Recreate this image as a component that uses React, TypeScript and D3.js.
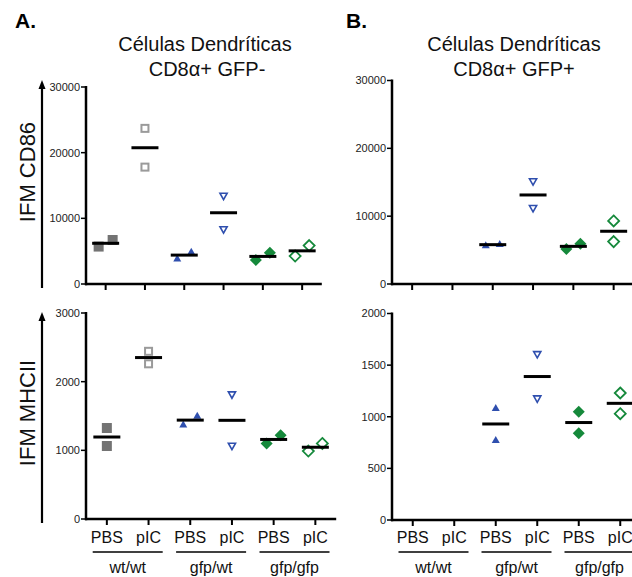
import React from "react";
import * as d3 from "d3";

const categories = ["wtPBS", "wtpIC", "gwPBS", "gwpIC", "ggPBS", "ggpIC"];
const catLabels = ["PBS", "pIC", "PBS", "pIC", "PBS", "pIC"];
const groups = ["wt/wt", "gfp/wt", "gfp/gfp"];
const markerKinds = ["sqFill", "sqOpen", "triFill", "triOpen", "diaFill", "diaOpen"];

// IFM CD86, GFP- (panel A top)
const cd86Neg: number[][] = [[5700, 6700], [23700, 17800], [3900, 4900], [13400, 8300], [3650, 4750], [4250, 5850]];
// IFM CD86, GFP+ (panel B top)
const cd86Pos: number[][] = [[], [], [5700, 5900], [15100, 11150], [5150, 5950], [9300, 6250]];
// IFM MHCII, GFP- (panel A bottom)
const mhcNeg: number[][] = [[1325, 1063], [2442, 2260], [1375, 1505], [1811, 1063], [1098, 1219], [990, 1100]];
// IFM MHCII, GFP+ (panel B bottom)
const mhcPos: number[][] = [[], [], [1084, 776], [1604, 1175], [1048, 840], [1230, 1030]];

const ticksCD86 = [0, 10000, 20000, 30000];
const ticksMhcA = [0, 1000, 2000, 3000];
const ticksMhcB = [0, 500, 1000, 1500, 2000];

const FONT = "Arial, 'Liberation Sans', sans-serif";
const GRAY_F = "#737373";
const GRAY_O = "#9a9a9a";
const BLUE = "#2f4fae";
const GREEN = "#15893b";

type PanelCfg = {
  data: number[][];
  ticks: number[];
  axisX: number;
  y0: number;
  yTop: number;
  step: number;
  labels: boolean;
};

function Marker({ kind, x, y }: { kind: string; x: number; y: number }) {
  switch (kind) {
    case "sqFill":
      return <rect x={x - 5} y={y - 5} width={10} height={10} fill={GRAY_F} />;
    case "sqOpen":
      return <rect x={x - 3.5} y={y - 3.5} width={7} height={7} fill="none" stroke={GRAY_O} strokeWidth={2} />;
    case "triFill":
      return <path d={`M${x},${y - 4}L${x + 4},${y + 3}L${x - 4},${y + 3}Z`} fill={BLUE} />;
    case "triOpen":
      return <path d={`M${x - 3.6},${y - 2.8}L${x + 3.6},${y - 2.8}L${x},${y + 3.6}Z`} fill="none" stroke={BLUE} strokeWidth={1.6} />;
    case "diaFill":
      return <path d={`M${x},${y - 6}L${x + 6},${y}L${x},${y + 6}L${x - 6},${y}Z`} fill={GREEN} />;
    default:
      return <path d={`M${x},${y - 5.5}L${x + 5.5},${y}L${x},${y + 5.5}L${x - 5.5},${y}Z`} fill="none" stroke={GREEN} strokeWidth={1.8} />;
  }
}

function Panel({ cfg }: { cfg: PanelCfg }) {
  const { data, ticks, axisX, y0, yTop, step, labels } = cfg;
  const x = d3.scalePoint<string>().domain(categories).range([axisX, axisX + 6 * step]).padding(0.5);
  const y = d3.scaleLinear().domain([0, ticks[ticks.length - 1]]).range([y0, yTop]);
  const xEnd = axisX + 6 * step;
  return (
    <g>
      <line x1={axisX} x2={axisX} y1={y0 + 1.25} y2={yTop - 1} stroke="#000" strokeWidth={2.5} />
      {ticks.map((t) => (
        <g key={t}>
          <line x1={axisX - 5} x2={axisX} y1={y(t)} y2={y(t)} stroke="#000" strokeWidth={1.5} />
          <text x={axisX - 6} y={y(t)} dy="0.35em" textAnchor="end" fontSize={11} fill="#222" fontFamily={FONT}>
            {t}
          </text>
        </g>
      ))}
      <line x1={axisX - 1} x2={xEnd} y1={y0} y2={y0} stroke="#000" strokeWidth={2.5} />
      {categories.map((c) => (
        <line key={c} x1={x(c)} x2={x(c)} y1={y0} y2={y0 + 6} stroke="#000" strokeWidth={2} />
      ))}
      {categories.map((c, i) => {
        const vals = data[i];
        if (!vals.length) return null;
        const cx = x(c) as number;
        const sorted = [...vals].sort((a, b) => a - b);
        const close = Math.abs(y(sorted[0]) - y(sorted[sorted.length - 1])) < 11;
        const m = d3.mean(vals) as number;
        return (
          <g key={c}>
            {sorted.map((v, j) => (
              <Marker key={j} kind={markerKinds[i]} x={close ? cx + (j === 0 ? -7 : 7) : cx} y={y(v)} />
            ))}
            <line x1={cx - 13.5} x2={cx + 13.5} y1={y(m)} y2={y(m)} stroke="#000" strokeWidth={3} />
          </g>
        );
      })}
      {labels && (
        <g fontFamily={FONT} fill="#111">
          {categories.map((c, i) => (
            <text key={c} x={x(c)} y={543} textAnchor="middle" fontSize={16}>
              {catLabels[i]}
            </text>
          ))}
          {groups.map((g, gi) => {
            const cx = ((x(categories[gi * 2]) as number) + (x(categories[gi * 2 + 1]) as number)) / 2;
            return (
              <g key={g}>
                <line x1={cx - 35} x2={cx + 35} y1={552} y2={552} stroke="#000" strokeWidth={1.5} />
                <text x={cx} y={573} textAnchor="middle" fontSize={16}>
                  {g}
                </text>
              </g>
            );
          })}
        </g>
      )}
    </g>
  );
}

function Arrow({ x, yBottom, yTop }: { x: number; yBottom: number; yTop: number }) {
  return (
    <g>
      <line x1={x} x2={x} y1={yBottom} y2={yTop + 6} stroke="#000" strokeWidth={2.2} />
      <path d={`M${x},${yTop}L${x + 3.5},${yTop + 9}L${x - 3.5},${yTop + 9}Z`} fill="#000" />
    </g>
  );
}

export default function App() {
  const panels: PanelCfg[] = [
    { data: cd86Neg, ticks: ticksCD86, axisX: 86, y0: 284, yTop: 87, step: 39.3, labels: false },
    { data: cd86Pos, ticks: ticksCD86, axisX: 392, y0: 284, yTop: 80.5, step: 40.3, labels: false },
    { data: mhcNeg, ticks: ticksMhcA, axisX: 86, y0: 519, yTop: 313, step: 41.7, labels: true },
    { data: mhcPos, ticks: ticksMhcB, axisX: 392, y0: 520, yTop: 313.5, step: 41.5, labels: true },
  ];
  return (
    <svg width={632} height={577} style={{ position: "absolute", left: 0, top: 0, background: "#fff" }}>
      <rect width={632} height={577} fill="#fff" />
      <text x={15} y={28} fontSize={21} fontWeight="bold" fontFamily={FONT}>A.</text>
      <text x={346} y={28} fontSize={21} fontWeight="bold" fontFamily={FONT}>B.</text>
      <g fontFamily={FONT} fontSize={20} textAnchor="middle" fill="#111">
        <text x={205} y={51}>Células Dendríticas</text>
        <text x={207} y={76}>CD8α+ GFP-</text>
        <text x={514} y={51}>Células Dendríticas</text>
        <text x={514} y={76}>CD8α+ GFP+</text>
      </g>
      <g fontFamily={FONT} fontSize={22} textAnchor="middle" fill="#111">
        <text transform="translate(35,172) rotate(-90)">IFM CD86</text>
        <text transform="translate(35,413) rotate(-90)">IFM MHCII</text>
      </g>
      <Arrow x={42} yBottom={288} yTop={80} />
      <Arrow x={42} yBottom={523} yTop={312} />
      {panels.map((p, i) => (
        <Panel key={i} cfg={p} />
      ))}
    </svg>
  );
}
